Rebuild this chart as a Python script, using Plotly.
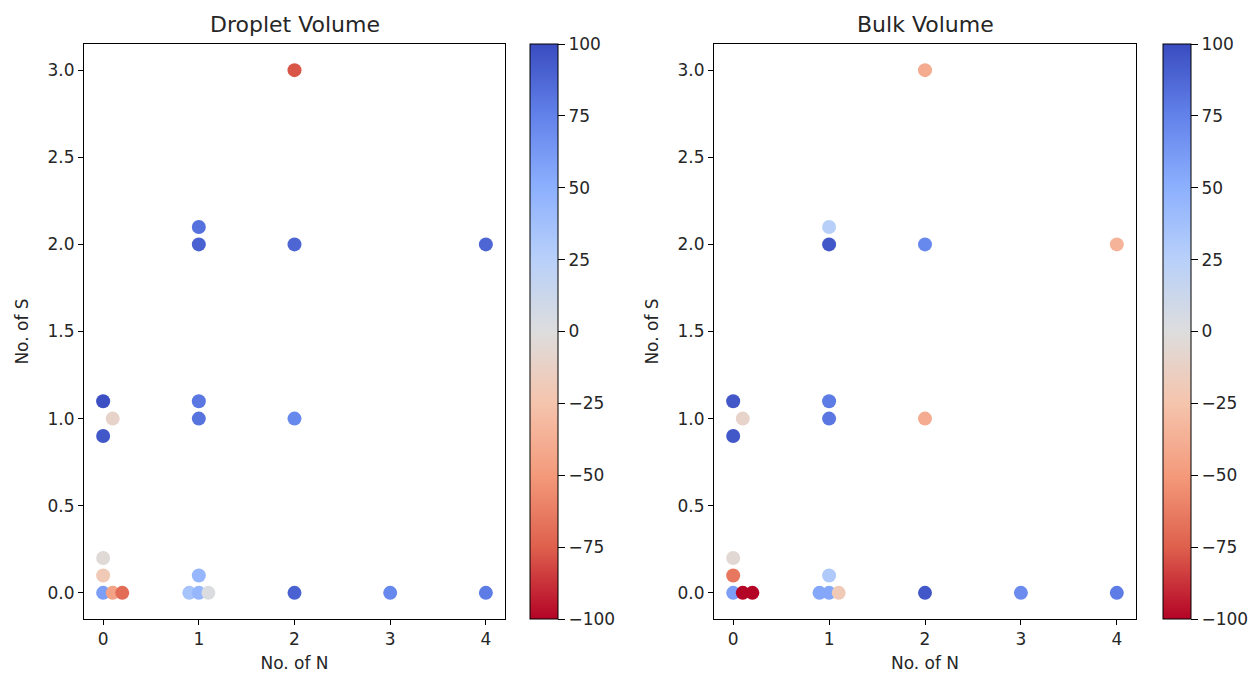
import plotly.graph_objects as go

# ---- data ----
droplet_n = [0, 0, 0.1, 0, 0, 0, 0.1, 0.2, 0.9, 1.0, 1.1, 1.0, 1, 1, 1, 1, 2, 2, 2, 2, 3, 4, 4]
droplet_s = [1.1, 0.9, 1.0, 0.2, 0.1, 0.0, 0.0, 0.0, 0.0, 0.0, 0.0, 0.1, 1.0, 1.1, 2.0, 2.1, 3.0, 2.0, 1.0, 0.0, 0.0, 0.0, 2.0]
droplet_v = [98, 95, -10, -3, -20, 60, -45, -70, 35, 45, 2, 45, 82, 80, 90, 83, -78, 88, 72, 90, 72, 78, 88]

bulk_n = [0, 0, 0.1, 0, 0, 0, 0.1, 0.2, 0.9, 1.0, 1.1, 1.0, 1, 1, 1, 1, 2, 2, 2, 2, 3, 4, 4]
bulk_s = [1.1, 0.9, 1.0, 0.2, 0.1, 0.0, 0.0, 0.0, 0.0, 0.0, 0.0, 0.1, 1.0, 1.1, 2.0, 2.1, 3.0, 2.0, 1.0, 0.0, 0.0, 0.0, 2.0]
bulk_v = [95, 95, -10, -5, -65, 60, -100, -100, 55, 55, -20, 30, 80, 78, 95, 25, -40, 72, -40, 95, 70, 78, -35]

titles = ["Droplet Volume", "Bulk Volume"]
x_ticks = [0, 1, 2, 3, 4]
y_ticks = [0.0, 0.5, 1.0, 1.5, 2.0, 2.5, 3.0]
cbar_ticks = [100, 75, 50, 25, 0, -25, -50, -75, -100]
cbar_labels = ["100", "75", "50", "25", "0", "\u221225", "\u221250", "\u221275", "\u2212100"]

# coolwarm (reversed so that -100 is red and 100 is blue)
coolwarm = [
    (0.0, "rgb(180,4,38)"), (0.125, "rgb(222,96,77)"), (0.25, "rgb(244,154,123)"),
    (0.375, "rgb(245,196,173)"), (0.5, "rgb(221,221,221)"), (0.625, "rgb(184,208,249)"),
    (0.75, "rgb(141,176,254)"), (0.875, "rgb(98,130,234)"), (1.0, "rgb(58,76,192)"),
]
colorscale = [[p, c] for p, c in coolwarm]

W, H = 1257, 679
FONT = "DejaVu Sans"
TXT = "#262626"
TICK = 17
LABEL = 17
TITLE = 22

# pixel layout
ax_left = [(84, 505), (714, 1136)]
cb_left = [530, 1163]
cb_w = 28
top_px, bot_px = 44, 619

fig = go.Figure()
datasets = [(droplet_n, droplet_s, droplet_v), (bulk_n, bulk_s, bulk_v)]
for i, (xs, ys, vs) in enumerate(datasets):
    sfx = "" if i == 0 else str(i + 1)
    fig.add_trace(go.Scatter(
        x=xs, y=ys, mode="markers",
        marker=dict(size=14, color=vs, coloraxis="coloraxis" + sfx, line=dict(width=0), opacity=1),
        xaxis="x" + sfx, yaxis="y" + sfx, showlegend=False, hoverinfo="x+y+text",
        text=[str(v) for v in vs],
    ))

ydom = [1 - bot_px / H, 1 - top_px / H]
layout = dict(
    width=W, height=H, margin=dict(l=0, r=0, t=0, b=0),
    paper_bgcolor="white", plot_bgcolor="white",
    font=dict(family=FONT, size=TICK, color=TXT),
    showlegend=False,
)
axis_common = dict(showline=True, linecolor="black", linewidth=1, mirror=True,
                   showgrid=False, zeroline=False, ticks="outside", ticklen=5,
                   tickcolor="black", tickfont=dict(family=FONT, size=TICK, color=TXT))
annotations = []
for i in range(2):
    sfx = "" if i == 0 else str(i + 1)
    l, r = ax_left[i]
    layout["xaxis" + sfx] = dict(
        domain=[l / W, r / W], range=[-0.2, 4.2], anchor="y" + sfx,
        tickmode="array", tickvals=x_ticks, ticktext=[str(t) for t in x_ticks],
        title=dict(text="No. of N", font=dict(family=FONT, size=LABEL, color=TXT), standoff=8),
        **axis_common)
    layout["yaxis" + sfx] = dict(
        domain=ydom, range=[-0.15, 3.15], anchor="x" + sfx,
        tickmode="array", tickvals=y_ticks, ticktext=["%.1f" % t for t in y_ticks],
        title=dict(text="No. of S", font=dict(family=FONT, size=LABEL, color=TXT), standoff=14),
        **axis_common)
    layout["coloraxis" + sfx] = dict(
        cmin=-100, cmax=100, colorscale=colorscale,
        colorbar=dict(
            x=cb_left[i] / W, xanchor="left", xpad=0, y=1 - top_px / H, yanchor="top", ypad=0,
            len=bot_px - top_px, lenmode="pixels", thickness=cb_w, thicknessmode="pixels",
            outlinecolor="black", outlinewidth=1, ticks="outside", ticklen=7, tickcolor="black",
            tickmode="array", tickvals=cbar_ticks, ticktext=cbar_labels,
            tickfont=dict(family=FONT, size=TICK, color=TXT),
        ))
    annotations.append(dict(
        text=titles[i], x=(l + r) / 2 / W, y=1 - 25 / H, xref="paper", yref="paper",
        xanchor="center", yanchor="middle", showarrow=False,
        font=dict(family=FONT, size=TITLE, color=TXT)))
layout["annotations"] = annotations
fig.update_layout(**layout)
fig.write_html("out.html")
